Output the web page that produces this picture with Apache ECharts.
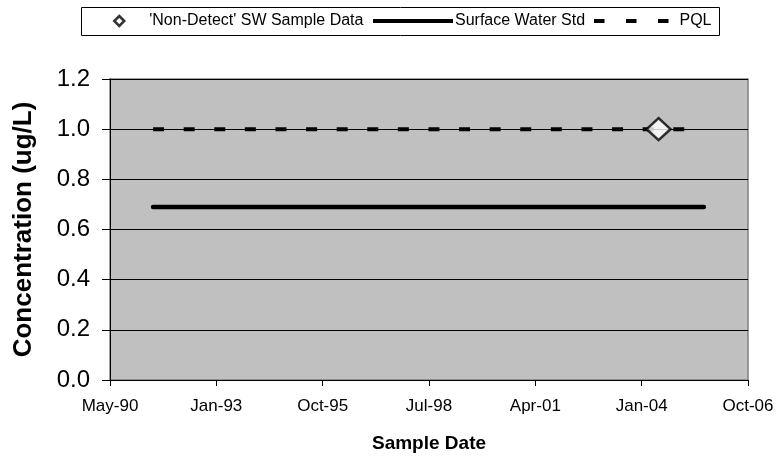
<!DOCTYPE html>
<html>
<head>
<meta charset="utf-8">
<script src="https://cdn.jsdelivr.net/npm/echarts@6/dist/echarts.min.js"></script>
<style>html,body{margin:0;padding:0;background:#fff}#c{width:780px;height:464px}</style>
</head>
<body>
<div id="c"></div>
<script>
// ---- data ----
const axisStartDate = '1990-05-01';
const xTickStepDays = 1000;
const xTickCount = 6;
const nonDetectDates = ['2004-06-15'];
const nonDetectValues = [1.0];
const surfaceStdDates = ['1991-06-10', '2005-08-15'];
const surfaceStdValues = [0.69, 0.69];
const pqlDates = ['1991-06-10', '2005-08-15'];
const pqlValues = [1.0, 1.0];
const yMin = 0, yMax = 1.2, yStep = 0.2;
const monthNames = ['Jan','Feb','Mar','Apr','May','Jun','Jul','Aug','Sep','Oct','Nov','Dec'];

const DAY = 86400000;
const base = Date.parse(axisStartDate + 'T00:00:00Z');
function toDays(s) { return Math.round((Date.parse(s + 'T00:00:00Z') - base) / DAY); }
function pairs(dates, vals) { return dates.map((d, i) => [toDays(d), vals[i]]); }
function fmtDate(days) {
  const d = new Date(base + days * DAY);
  return monthNames[d.getUTCMonth()] + '-' + String(d.getUTCFullYear() % 100).padStart(2, '0');
}

const FONT = 'Liberation Sans, Arial, sans-serif';
const legendText = {fontFamily: FONT, fontSize: 16, color: '#000', lineHeight: 20};
const chart = echarts.init(document.getElementById('c'), null, {renderer: 'canvas'});
chart.setOption({
  animation: false,
  backgroundColor: '#fff',
  grid: {
    left: 110, right: 32, top: 79, bottom: 84,
    show: true, backgroundColor: '#C0C0C0', borderColor: '#808080', borderWidth: 1.5
  },
  graphic: [{
    type: 'rect', left: 81, top: 7, z: -1,
    shape: {width: 638, height: 28},
    style: {fill: '#fff', stroke: '#000', lineWidth: 1}
  }],
  legend: [
    {
      data: [{name: "'Non-Detect' SW Sample Data", icon: 'diamond',
              itemStyle: {color: '#fff', borderColor: '#000', borderWidth: 2.5}}],
      left: 113, top: 11, padding: 0, itemWidth: 10, itemHeight: 10, itemGap: 0,
      textStyle: Object.assign({padding: [0, 0, 0, 20]}, legendText),
      selectedMode: false
    },
    {
      data: [{name: 'Surface Water Std', icon: 'path://M0,0h80v4h-80z'}],
      left: 373, top: 11, padding: 0, itemWidth: 80, itemHeight: 4, itemGap: 0,
      textStyle: Object.assign({padding: [0, 0, 0, -3]}, legendText),
      selectedMode: false
    },
    {
      data: [{name: 'PQL', icon: 'path://M0,0h10.5v4h-10.5z M32,0h10.5v4h-10.5z M64,0h10.5v4h-10.5z'}],
      left: 594, top: 11, padding: 0, itemWidth: 74.5, itemHeight: 4, itemGap: 0,
      textStyle: Object.assign({padding: [0, 0, 0, 6]}, legendText),
      selectedMode: false
    }
  ],
  xAxis: {
    type: 'value',
    min: 0, max: xTickStepDays * xTickCount, interval: xTickStepDays,
    name: 'Sample Date', nameLocation: 'middle', nameGap: 54,
    nameTextStyle: {fontFamily: FONT, fontSize: 19, fontWeight: 'bold', color: '#000'},
    axisLine: {show: true, onZero: false, lineStyle: {color: '#000', width: 1}},
    axisTick: {show: true, length: 6, lineStyle: {color: '#000'}},
    axisLabel: {formatter: v => fmtDate(v), fontFamily: FONT, fontSize: 17, color: '#000', margin: 18},
    splitLine: {show: false}
  },
  yAxis: {
    type: 'value',
    min: yMin, max: yMax, interval: yStep,
    name: 'Concentration (ug/L)', nameLocation: 'middle', nameGap: 73,
    nameTextStyle: {fontFamily: FONT, fontSize: 26, fontWeight: 'bold', color: '#000'},
    axisLine: {show: true, lineStyle: {color: '#000', width: 1}},
    axisTick: {show: true, length: 8, lineStyle: {color: '#000'}},
    axisLabel: {formatter: v => v.toFixed(1), fontFamily: FONT, fontSize: 24, color: '#000', margin: 20},
    splitLine: {show: true, lineStyle: {color: '#000', width: 1}}
  },
  series: [
    {
      name: 'Surface Water Std', type: 'line', data: pairs(surfaceStdDates, surfaceStdValues),
      showSymbol: false, symbol: 'none', color: '#000',
      lineStyle: {color: '#000', width: 4.5, cap: 'round'}, z: 3
    },
    {
      name: 'PQL', type: 'line', data: pairs(pqlDates, pqlValues),
      showSymbol: false, symbol: 'none', color: '#000',
      lineStyle: {color: '#000', width: 4, type: [11, 19.6], cap: 'butt'}, z: 3
    },
    {
      name: "'Non-Detect' SW Sample Data", type: 'scatter', data: pairs(nonDetectDates, nonDetectValues),
      symbol: 'diamond', symbolSize: [24, 22],
      itemStyle: {color: '#fff', borderColor: '#000', borderWidth: 2.5}, z: 5
    }
  ]
});
</script>
</body>
</html>
